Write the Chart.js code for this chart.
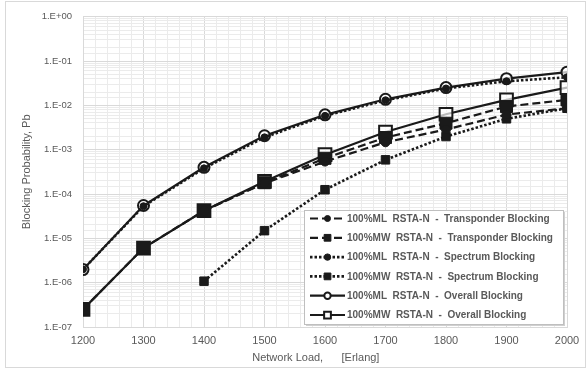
<!DOCTYPE html>
<html>
<head>
<meta charset="utf-8">
<script src="https://cdn.jsdelivr.net/npm/chart.js@4.4.1/dist/chart.umd.min.js"></script>
<style>
  html, body { margin: 0; padding: 0; background: #fff; }
  #wrap { width: 588px; height: 375px; }
</style>
</head>
<body>
<div id="wrap"><canvas id="chart" width="588" height="375"></canvas></div>
<script>
const loads = [1200, 1300, 1400, 1500, 1600, 1700, 1800, 1900, 2000]
const yTickLabels = ["1.E-07", "1.E-06", "1.E-05", "1.E-04", "1.E-03", "1.E-02", "1.E-01", "1.E+00"]

const mlTransponder = [null, null, 4.2e-5, 1.75e-4, 5.4e-4, 1.47e-3, 2.85e-3, 6.2e-3, 8.6e-3]
const mwTransponder = [2.5e-7, 6.05e-6, 4.2e-5, 1.8e-4, 6.4e-4, 1.88e-3, 3.95e-3, 9.4e-3, 1.33e-2]
const mlSpectrum = [2.0e-6, 5.3e-5, 3.8e-4, 1.9e-3, 5.8e-3, 1.3e-2, 2.4e-2, 3.5e-2, 4.3e-2]
const mwSpectrum = [null, null, 1.08e-6, 1.49e-5, 1.25e-4, 5.9e-4, 1.98e-3, 4.97e-3, 8.6e-3]
const mlOverall = [1.97e-6, 5.5e-5, 4.0e-4, 2.06e-3, 6.1e-3, 1.37e-2, 2.52e-2, 4.0e-2, 5.6e-2]
const mwOverall = [2.5e-7, 6.05e-6, 4.2e-5, 1.92e-4, 7.7e-4, 2.5e-3, 6.3e-3, 1.33e-2, 2.52e-2]

const seriesLabels = [
  "100%ML  RSTA-N  -  Transponder Blocking",
  "100%MW  RSTA-N  -  Transponder Blocking",
  "100%ML  RSTA-N  -  Spectrum Blocking",
  "100%MW  RSTA-N  -  Spectrum Blocking",
  "100%ML  RSTA-N  -  Overall Blocking",
  "100%MW  RSTA-N  -  Overall Blocking"
]

const ink = "#1a1a1a"
const gray = "#595959"
const font = "'Liberation Sans', Arial, sans-serif"
const DASH = [8, 4]
const DOT = [2.5, 2]

function points(values) {
  return loads.map((x, i) => ({ x: x, y: values[i] }))
}

function isDecade(v) {
  const l = Math.log10(v)
  return Math.abs(l - Math.round(l)) < 1e-6
}

function series(label, values, opts) {
  return Object.assign({
    label: label,
    data: points(values),
    borderColor: ink,
    borderWidth: 2.2,
    tension: 0,
    spanGaps: false,
    pointBorderColor: ink,
    pointBackgroundColor: ink,
    pointBorderWidth: 1,
    pointHoverRadius: 0
  }, opts)
}

const datasets = [
  series(seriesLabels[0], mlTransponder, { borderDash: DASH, pointStyle: "circle", pointRadius: 4.5, order: 1, legendSize: 3 }),
  series(seriesLabels[1], mwTransponder, { borderDash: DASH, pointStyle: "rect", pointRadius: 8.5, order: 1, legendSize: 4.5 }),
  series(seriesLabels[2], mlSpectrum, { borderDash: DOT, borderWidth: 2.6, pointStyle: "circle", pointRadius: 3.5, order: 2, legendSize: 3.2 }),
  series(seriesLabels[3], mwSpectrum, { borderDash: DOT, borderWidth: 2.6, pointStyle: "rect", pointRadius: 6, order: 2, legendSize: 4.5 }),
  series(seriesLabels[4], mlOverall, { pointStyle: "circle", pointRadius: 5.5, pointBackgroundColor: "rgba(255,255,255,0.7)", pointBorderWidth: 2, order: 3, legendSize: 3.2 }),
  series(seriesLabels[5], mwOverall, { pointStyle: "rect", pointRadius: 9, pointBackgroundColor: "rgba(255,255,255,0.7)", pointBorderWidth: 2, order: 3, legendSize: 4.5 })
]

// outer frame of the chart object
const framePlugin = {
  id: "frame",
  beforeDraw(chart) {
    const ctx = chart.ctx
    ctx.save()
    ctx.strokeStyle = "#d9d9d9"
    ctx.lineWidth = 1
    ctx.strokeRect(5.5, 1.5, 580, 366)
    ctx.restore()
  }
}

// legend box drawn inside the plot, lower right
const legendPlugin = {
  id: "boxLegend",
  afterDatasetsDraw(chart) {
    const ctx = chart.ctx
    const x0 = 304, y0 = 210, w = 259, h = 114
    ctx.save()
    ctx.fillStyle = "#d0d0d0"
    ctx.fillRect(x0 + 2, y0 + 2, w, h)
    ctx.fillStyle = "#fff"
    ctx.fillRect(x0, y0, w, h)
    ctx.strokeStyle = "#bfbfbf"
    ctx.lineWidth = 1
    ctx.strokeRect(x0 + 0.5, y0 + 0.5, w, h)

    chart.data.datasets.forEach((ds, i) => {
      const y = y0 + 8.5 + i * 19.3
      ctx.save()
      ctx.strokeStyle = ink
      ctx.lineWidth = ds.borderWidth
      ctx.setLineDash(ds.borderDash || [])
      ctx.beginPath()
      ctx.moveTo(310, y)
      ctx.lineTo(345, y)
      ctx.stroke()
      ctx.restore()

      ctx.save()
      ctx.fillStyle = ds.pointBackgroundColor === ink ? ink : "#fff"
      ctx.strokeStyle = ink
      ctx.lineWidth = ds.pointBorderWidth
      ctx.beginPath()
      if (ds.pointStyle === "circle") {
        ctx.arc(327.5, y, ds.legendSize, 0, Math.PI * 2)
      } else {
        ctx.rect(327.5 - ds.legendSize * 0.75, y - ds.legendSize * 0.75, ds.legendSize * 1.5, ds.legendSize * 1.5)
      }
      ctx.fill()
      ctx.stroke()
      ctx.restore()

      ctx.fillStyle = gray
      ctx.font = "bold 10px " + font
      ctx.textBaseline = "middle"
      ctx.textAlign = "left"
      ctx.fillText(ds.label, 347, y + 0.5)
    })
    ctx.restore()
  }
}

new Chart(document.getElementById("chart"), {
  type: "line",
  data: { datasets: datasets },
  options: {
    responsive: false,
    animation: false,
    events: [],
    layout: { padding: { left: 0, right: 21, top: 15, bottom: 0 } },
    plugins: {
      legend: { display: false },
      tooltip: { enabled: false }
    },
    scales: {
      x: {
        type: "linear",
        min: loads[0],
        max: loads[loads.length - 1],
        afterFit(scale) { scale.height = 48 },
        grid: {
          drawTicks: false,
          color: ctx => ctx.tick.value % 100 === 0 ? "#d9d9d9" : "#ebebeb"
        },
        border: { display: true, color: "#d9d9d9" },
        ticks: {
          stepSize: 20,
          autoSkip: false,
          maxRotation: 0,
          padding: 7,
          color: gray,
          font: { family: font, size: 11 },
          callback: v => loads.includes(v) ? String(v) : ""
        },
        title: {
          display: true,
          text: "Network Load,      [Erlang]      ",
          color: gray,
          font: { family: font, size: 11 },
          padding: { top: 0, bottom: 10 }
        }
      },
      y: {
        type: "logarithmic",
        min: 1e-7,
        max: 1,
        afterFit(scale) { scale.width = 83 },
        grid: {
          drawTicks: false,
          color: ctx => isDecade(ctx.tick.value) ? "#d9d9d9" : "#ebebeb"
        },
        border: { display: true, color: "#d9d9d9" },
        ticks: {
          autoSkip: false,
          padding: 11,
          color: gray,
          font: { family: font, size: 9.5 },
          callback: v => isDecade(v) ? yTickLabels[Math.round(Math.log10(v)) + 7] : ""
        },
        title: {
          display: true,
          text: "Blocking Probability, Pb",
          color: gray,
          font: { family: font, size: 11 },
          padding: { top: 20, bottom: 0 }
        }
      }
    }
  },
  plugins: [framePlugin, legendPlugin]
})
</script>
</body>
</html>
